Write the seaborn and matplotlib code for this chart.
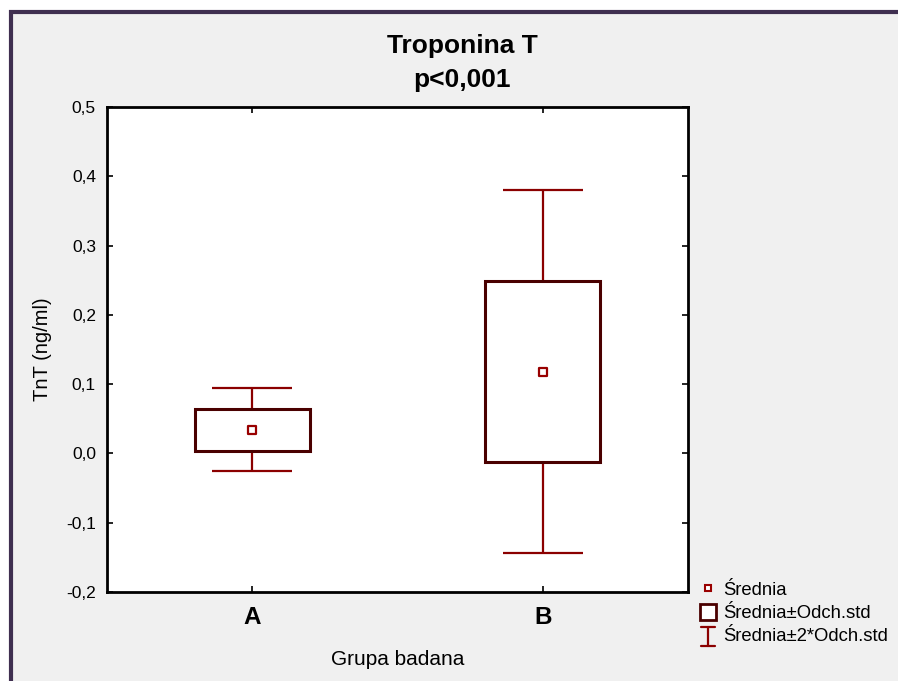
import matplotlib
matplotlib.use("Agg")
import matplotlib.pyplot as plt
from matplotlib.lines import Line2D
from matplotlib.patches import Rectangle
from matplotlib.legend_handler import HandlerBase
import seaborn as sns
import pandas as pd
import numpy as np

groups = ["A", "B"]
means = [0.034, 0.118]
sds = [0.030, 0.131]
yticks = [-0.2, -0.1, 0.0, 0.1, 0.2, 0.3, 0.4, 0.5]
ytick_labels = ["-0,2", "-0,1", "0,0", "0,1", "0,2", "0,3", "0,4", "0,5"]
title = "Troponina T\np<0,001"
xlabel = "Grupa badana"
ylabel = "TnT (ng/ml)"
legend_labels = ["Średnia", "Średnia±Odch.std", "Średnia±2*Odch.std"]

sns.set_theme(style="white")
plt.rcParams["font.family"] = ["Liberation Sans", "DejaVu Sans"]
plt.rcParams["text.color"] = "black"
plt.rcParams["axes.labelcolor"] = "black"
plt.rcParams["xtick.color"] = "black"
plt.rcParams["ytick.color"] = "black"

box_edge = "#4a0000"
whisk_col = "#8b0000"


class IBeam:
    pass


class HandlerIBeam(HandlerBase):
    def create_artists(self, legend, orig_handle, xdescent, ydescent, width,
                       height, fontsize, trans):
        cx = width / 2 - xdescent
        top = height * 1.1
        bot = -height * 0.4
        hw = width * 0.32
        l1 = Line2D([cx, cx], [bot, top], color=whisk_col, lw=1.6, transform=trans)
        l2 = Line2D([cx - hw, cx + hw], [top, top], color=whisk_col, lw=1.6, transform=trans)
        l3 = Line2D([cx - hw, cx + hw], [bot, bot], color=whisk_col, lw=1.6, transform=trans)
        return [l1, l2, l3]


fig = plt.figure(figsize=(8.98, 6.81), dpi=100)
fig.patch.set_facecolor("white")
fig.patches.append(Rectangle((11 / 898, -0.01), 1.0, 1 - 11.5 / 681 + 0.01,
                             transform=fig.transFigure, facecolor="#f0f0f0",
                             edgecolor="#3f2f50", linewidth=3, zorder=-10))

ax = fig.add_axes([107 / 898, 1 - 592 / 681, (688 - 107) / 898, (592 - 107) / 681])
ax.set_facecolor("white")

df = pd.DataFrame({"group": groups, "mean": means, "sd": sds})
df["x"] = np.arange(len(groups))

ax.errorbar(df["x"], df["mean"], yerr=2 * df["sd"], fmt="none", ecolor=whisk_col,
            elinewidth=1.6, capsize=29, capthick=1.6, zorder=1)
ax.bar(df["x"], 2 * df["sd"], bottom=df["mean"] - df["sd"], width=0.395,
       facecolor="white", edgecolor=box_edge, linewidth=2.2, zorder=2)
sns.scatterplot(data=df, x="x", y="mean", marker="s", s=40, color="white",
                edgecolor="#990000", linewidth=1.6, ax=ax, zorder=3, legend=False)

ax.set_xlim(-0.5, 1.5)
ax.set_ylim(-0.2, 0.5)
ax.set_xticks(df["x"])
ax.set_xticklabels(groups, fontsize=17.5, fontweight="bold")
ax.set_yticks(yticks)
ax.set_yticklabels(ytick_labels, fontsize=12.5)
ax.tick_params(axis="both", direction="in", length=4, width=1.2, color="black",
               top=True, right=True, left=True, bottom=True, pad=8)
ax.tick_params(axis="x", pad=10)
for s in ax.spines.values():
    s.set_visible(True)
    s.set_color("black")
    s.set_linewidth(2)
ax.set_xlabel(xlabel, fontsize=15, labelpad=15)
ax.set_ylabel(ylabel, fontsize=14.5, labelpad=10)

fig.text(462 / 898, 1 - 63 / 681, title, ha="center", va="center",
         fontsize=19, fontweight="bold", linespacing=1.5)

h_mean = Line2D([], [], linestyle="none", marker="s", markersize=5,
                markerfacecolor="white", markeredgecolor="#990000", markeredgewidth=1.5)
h_box = Line2D([], [], linestyle="none", marker="s", markersize=11,
               markerfacecolor="white", markeredgecolor=box_edge, markeredgewidth=2)
h_err = IBeam()
leg = fig.legend([h_mean, h_box, h_err], legend_labels, loc="upper left",
                 bbox_to_anchor=(684 / 898, 1 - 569 / 681), frameon=False,
                 fontsize=13.3, handlelength=1.2, handletextpad=0.23,
                 labelspacing=0.33, borderpad=0.2,
                 handler_map={IBeam: HandlerIBeam()})

fig.savefig("out.png", dpi=100)
